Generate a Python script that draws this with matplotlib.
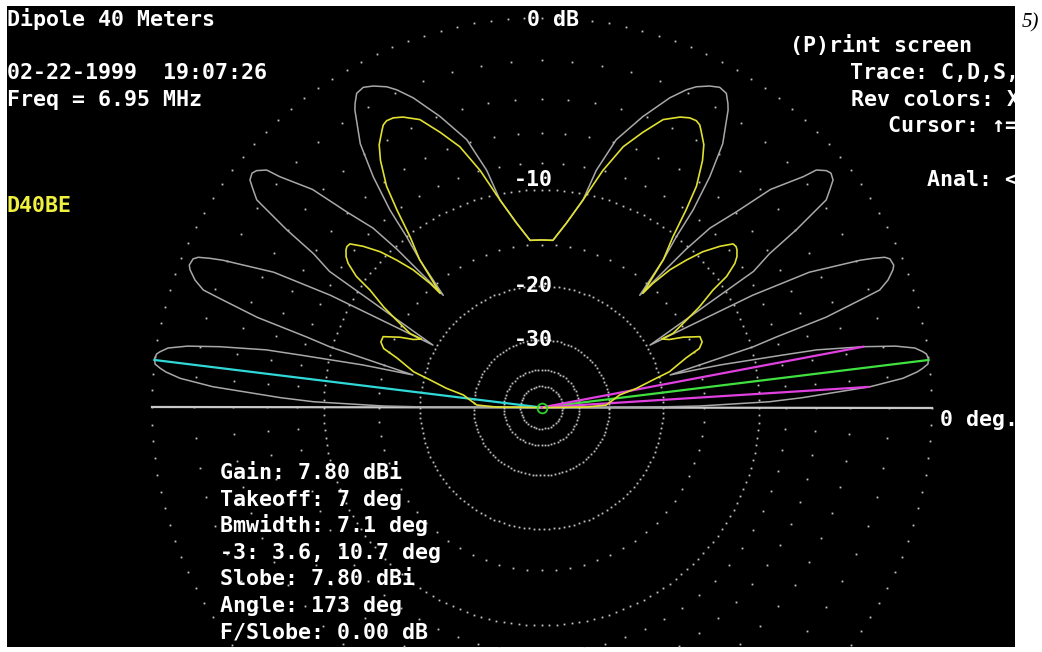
import numpy as np
import matplotlib.pyplot as plt

# elevation pattern traces (deg above horizon, dB re max)
# left half is the mirror image of the right half
gray_elev = [0.0, 0.3, 0.54, 1.19, 1.45, 2.15, 3.62, 4.62, 5.4, 5.87, 6.42, 7.14, 7.91, 8.32, 9.05, 9.83,
             10.7, 11.82, 12.26, 13.39, 14.2,
             16.0, 16.7, 17.6, 18.8, 19.16, 20.2, 21.4, 22.0, 23.1, 23.64, 24.23, 24.8, 26.8, 28.0, 29.9,
             32.7, 34.0, 34.9, 36.1, 37.04, 37.97, 39.0, 39.74, 40.83, 41.4, 43.6, 45.1, 46.8, 47.6, 48.8,
             50.5, 51.7, 52.5, 53.9, 55.5, 57.9, 58.5, 59.53, 60.9, 62.38, 64.24, 65.5, 67.5, 70.8, 74.4,
             77.0, 78.7, 82.3, 86.1, 90.0]
gray_db = [-90, -20, -15.5, -11.3, -9.2, -6.9, -2.9, -1.25, -0.57, -0.3, -0.05, 0.0, -0.06, -0.2, -0.53, -1.4,
           -3.0, -5.6, -7.8, -12.9, -18.5,
           -9.8, -8.0, -4.6, -2.2, -1.47, -0.94, -0.56, -0.45, -0.5, -0.69, -1.21, -1.8, -4.5, -8.4, -19.5,
           -7.5, -6.0, -3.9, -1.74, -1.32, -0.91, -0.79, -0.88, -1.22, -1.9, -3.6, -5.9, -7.9, -10.3, -16.5,
           -12.2, -10.0, -7.7, -5.35, -3.4, -1.8, -1.53, -1.16, -1.07, -1.24, -1.56, -1.9, -2.6, -4.05, -5.8,
           -8.1, -10.5, -12.7, -14.5, -14.5]

yel_elev = [0.0, 0.6, 2.2, 6.0, 9.1, 11.4, 13.9, 15.6, 18.9, 20.5, 22.2, 24.1, 26.4, 28.0, 29.7,
            29.4, 31.1, 32.5, 34.4, 35.3, 36.7, 37.65, 38.9, 39.6, 40.5, 42.1, 44.0, 45.5, 47.0, 48.1, 48.4,
            50.5, 52.4, 53.8, 55.0, 56.9, 58.3, 60.1, 60.75, 61.64, 62.9, 64.5, 67.1, 69.8, 72.6, 75.5,
            78.7, 82.3, 86.1, 90.0]
yel_db = [-90, -37, -30.8, -29.0, -27.4, -23.9, -21.0, -18.5, -16.1, -14.4, -13.9, -13.9, -15.5, -17.0, -17.8,
          -16.3, -14.3, -12.6, -10.8, -9.3, -8.25, -7.85, -7.55, -7.46, -7.5, -8.3, -9.5, -10.9, -12.5, -14.6, -16.1,
          -12.2, -10.2, -8.0, -6.3, -4.8, -4.0, -3.4, -3.19, -3.08, -3.11, -3.3, -3.8, -4.9, -6.1, -8.0,
          -10.5, -12.7, -14.5, -14.5]

takeoff = 7
minus3 = [3.6, 10.7]
slobe_angle = 173

sparse_rings = [0, -2, -4, -6, -8, -15]
dense_rings = [-10, -20, -30, -40, -50]
scale_labels = ['-10', '-20', '-30']

info_lines = ['Gain: 7.80 dBi', 'Takeoff: 7 deg', 'Bmwidth: 7.1 deg', '-3: 3.6, 10.7 deg',
              'Slobe: 7.80 dBi', 'Angle: 173 deg', 'F/Slobe: 0.00 dB']


def arrl(db):
    # ARRL log scale: radius drops by 0.89 every 2 dB
    return 0.89 ** (-np.asarray(db, dtype=float) / 2.0)


def xy(ang_deg, db):
    r = arrl(db)
    a = np.radians(np.asarray(ang_deg, dtype=float))
    return r * np.cos(a), r * np.sin(a)


def full_trace(elev, db):
    elev = np.asarray(elev, dtype=float)
    db = np.asarray(db, dtype=float)
    ang = np.concatenate([elev, 180 - elev[::-1]])
    return xy(ang, np.concatenate([db, db[::-1]]))


W, H = 1042, 652
X0, X1, Y0, Y1 = 7, 1015, 6, 647      # black screen area in pixels
CX, CY, R0 = 541.5, 407.5, 390.0      # pattern centre and 0 dB radius

fig = plt.figure(figsize=(W / 100, H / 100), dpi=100, facecolor='white')
ax = fig.add_axes([X0 / W, (H - Y1) / H, (X1 - X0) / W, (Y1 - Y0) / H])
ax.set_facecolor('black')
ax.set_xlim((X0 - CX) / R0, (X1 - CX) / R0)
ax.set_ylim((CY - Y1) / R0, (CY - Y0) / R0)
ax.set_aspect('equal')
ax.axis('off')
ax.add_patch(plt.Rectangle((0, 0), 1, 1, transform=ax.transAxes, color='black', zorder=0))

dot_col = '#c4c4c4'
for db in sparse_rings:
    step = 2.5 if db == 0 else 5.0
    a = np.arange(0, 360, step)
    x, y = xy(a, np.full(a.shape, db))
    ax.plot(x, y, ls='none', marker='s', ms=1.3, mew=0, color=dot_col, zorder=1)
for db, step in zip(dense_rings, [2.0, 2.4, 3.2, 5.0, 8.0]):
    a = np.arange(0, 360, step)
    x, y = xy(a, np.full(a.shape, db))
    ax.plot(x, y, ls='none', marker='s', ms=1.3, mew=0, color=dot_col, zorder=1)

# horizon
hx, hy = xy([180, 0], [0, 0])
ax.plot(hx, hy, color='#c8c8c8', lw=1.6, zorder=2)

gx, gy = full_trace(gray_elev, gray_db)
ax.plot(gx, gy, color='#a8a8a8', lw=1.1, solid_joinstyle='round', zorder=3)

# cursor lines
ex, ey = xy([slobe_angle], [0])
ax.plot([0, ex[0]], [0, ey[0]], color='#30d8d8', lw=1.6, zorder=4)
ex, ey = xy([takeoff], [0])
ax.plot([0, ex[0]], [0, ey[0]], color='#40e040', lw=1.6, zorder=4)
for a in minus3:
    ex, ey = xy([a], [-3])
    ax.plot([0, ex[0]], [0, ey[0]], color='#e040e0', lw=1.6, zorder=4)

yx, yy = full_trace(yel_elev, yel_db)
ax.plot(yx, yy, color='#e0e030', lw=1.2, solid_joinstyle='round', zorder=5)

ax.plot([0], [0], ls='none', marker='o', ms=7, mfc='none', mec='#30d030', mew=1.3, zorder=6)

# text, laid out on the DOS text grid
ROW0, ROWH = 18.3, 26.65
font = dict(family='DejaVu Sans Mono', fontsize=15.6, fontweight='bold', color='white')


def put(x, row, s, **kw):
    y = ROW0 + ROWH * row
    fx = (x - X0) / (X1 - X0)
    fy = (Y1 - (y + 7.5)) / (Y1 - Y0)
    opts = dict(font)
    opts.update(kw)
    ax.text(fx, fy, s, transform=ax.transAxes, ha='left', va='baseline', clip_on=True, zorder=7, **opts)


put(7, 0, 'Dipole 40 Meters')
put(527, 0, '0 dB')
put(790, 1, '(P)rint screen')
put(850, 2, 'Trace: C,D,S,A')
put(851, 3, 'Rev colors: X')
put(888, 4, 'Cursor: ↑=')
put(927, 6, 'Anal: <')
put(7, 2, '02-22-1999  19:07:26')
put(7, 3, 'Freq = 6.95 MHz')
put(7, 7, 'D40BE', color='#f0f040')
for lab, row in zip(scale_labels, [6, 10, 12]):
    put(514, row, lab)
put(940, 15, '0 deg.')
for i, s in enumerate(info_lines):
    put(220, 17 + i, s)

fig.text(1022 / W, 1 - 23 / H, '5)', family='Liberation Serif', style='italic', fontsize=15,
         ha='left', va='center', color='black')

fig.savefig('out.png', dpi=100, facecolor='white')
